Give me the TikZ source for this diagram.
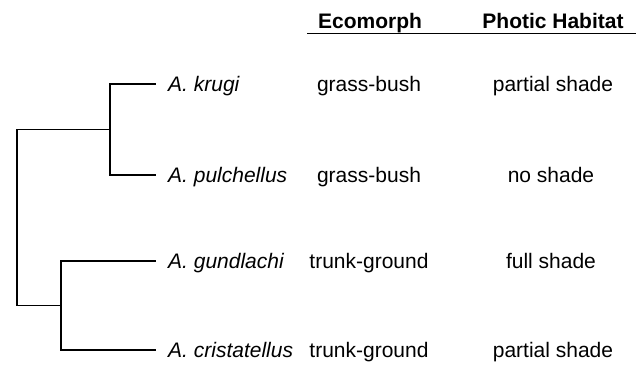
\documentclass[tikz,border=0pt]{standalone}
\usepackage{fontspec}
\setmainfont{Liberation Sans}
\begin{document}
\begin{tikzpicture}[x=1pt,y=-1pt,
  br/.style={line width=1.7pt,line cap=rect},
  sp/.style={anchor=base west,font=\fontsize{21}{24}\selectfont\itshape,inner sep=0pt},
  col/.style={anchor=base,font=\fontsize{21}{24}\selectfont,inner sep=0pt},
  hd/.style={anchor=base,font=\fontsize{21}{24}\selectfont\bfseries,inner sep=0pt}]
\useasboundingbox (0,0) rectangle (640,365);
% header
\node[hd] (h1) at (370,28) {Ecomorph};
\node[hd] (h2) at (553,28) {Photic Habitat};
\coordinate (hl) at (307,33.5);
\coordinate (hr) at (636,33.5);
\draw[line width=1.7pt] (hl) -- (hr);
% leaves
\coordinate (l1) at (155,84);
\coordinate (l2) at (155,175);
\coordinate (l3) at (155,261);
\coordinate (l4) at (155,350);
\coordinate (n1) at (110,129.5);
\coordinate (n2) at (61,305.5);
\coordinate (r) at (17,129.5);
\node[sp] (s1) at (168,91.5) {A. krugi};
\node[sp] (s2) at (168,182.5) {A. pulchellus};
\node[sp] (s3) at (168,268.5) {A. gundlachi};
\node[sp] (s4) at (168,357.5) {A. cristatellus};
\node[col] (e1) at (369,91.5) {grass-bush};
\node[col] (e2) at (369,182.5) {grass-bush};
\node[col] (e3) at (369,268.5) {trunk-ground};
\node[col] (e4) at (369,357.5) {trunk-ground};
\node[col] (p1) at (553,91.5) {partial shade};
\node[col] (p2) at (551,182.5) {no shade};
\node[col] (p3) at (551,268.5) {full shade};
\node[col] (p4) at (553,357.5) {partial shade};
% tree
\draw[br] (l1) -| (n1) |- (l2);
\draw[br] (l3) -| (n2) |- (l4);
\draw[br] (n1) -- (r) |- (n2);
\end{tikzpicture}
\end{document}
